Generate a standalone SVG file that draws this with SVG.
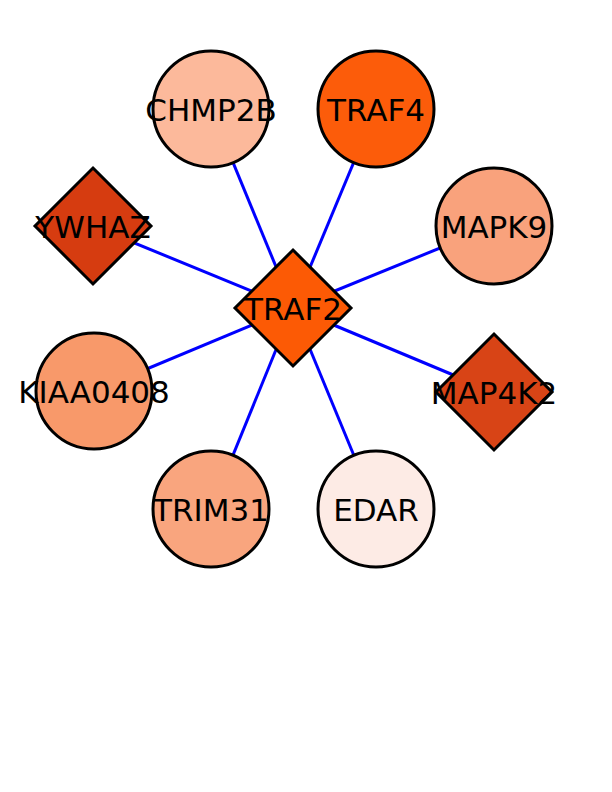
<svg xmlns="http://www.w3.org/2000/svg" width="612" height="792" viewBox="0 0 612 792">
<style>
.n{stroke:#000;stroke-width:3}
.e{stroke:#0000ff;stroke-width:3}
text{font-family:"DejaVu Sans",sans-serif;font-size:31px;fill:#000;text-anchor:middle;dominant-baseline:central}
</style>
<rect width="612" height="792" fill="#fff"/>
<g id="edges">
<line class="e" x1="293" y1="308" x2="211" y2="109"/>
<line class="e" x1="293" y1="308" x2="376" y2="109"/>
<line class="e" x1="293" y1="308" x2="93" y2="226"/>
<line class="e" x1="293" y1="308" x2="494" y2="226"/>
<line class="e" x1="293" y1="308" x2="94" y2="391"/>
<line class="e" x1="293" y1="308" x2="494" y2="392"/>
<line class="e" x1="293" y1="308" x2="211" y2="509"/>
<line class="e" x1="293" y1="308" x2="376" y2="509"/>
</g>
<g id="CHMP2B"><circle class="n" cx="211" cy="109" r="58" fill="#fcb99b"/><text x="211" y="110">CHMP2B</text></g>
<g id="TRAF4"><circle class="n" cx="376" cy="109" r="58" fill="#fc5c0a"/><text x="376" y="110">TRAF4</text></g>
<g id="YWHAZ"><polygon class="n" points="93,168 151,226 93,284 35,226" fill="#d63c10"/><text x="93" y="227">YWHAZ</text></g>
<g id="MAPK9"><circle class="n" cx="494" cy="226" r="58" fill="#f9a27c"/><text x="494" y="227">MAPK9</text></g>
<g id="TRAF2"><polygon class="n" points="293,250 351,308 293,366 235,308" fill="#fc5a05"/><text x="293" y="309">TRAF2</text></g>
<g id="KIAA0408"><circle class="n" cx="94" cy="391" r="58" fill="#f8996a"/><text x="94" y="392">KIAA0408</text></g>
<g id="MAP4K2"><polygon class="n" points="494,334 552,392 494,450 436,392" fill="#d84416"/><text x="494" y="393">MAP4K2</text></g>
<g id="TRIM31"><circle class="n" cx="211" cy="509" r="58" fill="#f9a57e"/><text x="211" y="510">TRIM31</text></g>
<g id="EDAR"><circle class="n" cx="376" cy="509" r="58" fill="#fdebe5"/><text x="376" y="510">EDAR</text></g>
</svg>
